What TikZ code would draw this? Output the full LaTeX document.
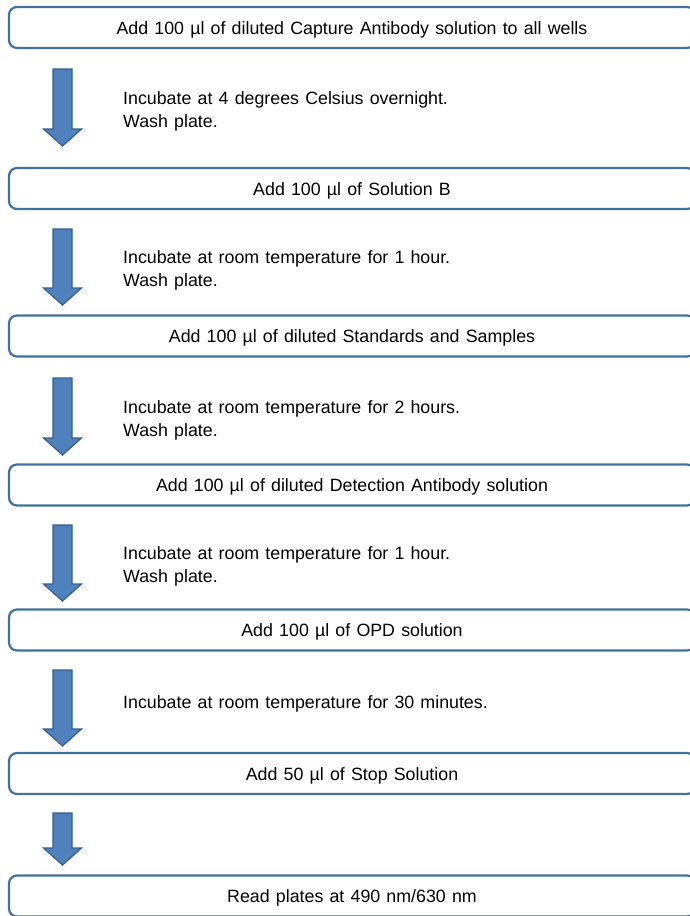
\documentclass[tikz,border=0pt]{standalone}
\usepackage{fontspec}
\setmainfont[WordSpace={1.25,0.5,0.3}]{Liberation Sans}
\usetikzlibrary{calc}
\definecolor{boxline}{HTML}{41719C}
\definecolor{arrowfill}{HTML}{4F81BD}
\definecolor{arrowline}{HTML}{385D8A}
\def\blockarrow(#1:#2:#3){\draw[blockarrow] (#1-9.5,#2) -- (#1+9.5,#2) -- (#1+9.5,#3-17) -- (#1+19,#3-17) -- (#1,#3) -- (#1-19,#3-17) -- (#1-9.5,#3-17) -- cycle;}
\def\steptext#1{\raisebox{-2pt}[\height][\depth]{#1}}
\tikzset{
  stepbox/.style={draw=boxline, line width=2.2pt, rounded corners=8pt, minimum width=686pt, minimum height=41pt, inner sep=0pt, font=\fontsize{17.8}{20}\selectfont},
  note/.style={anchor=west, align=left, inner sep=0pt, font=\fontsize{17.8}{23}\selectfont},
  blockarrow/.style={fill=arrowfill, draw=arrowline, line width=1.2pt}
}

\begin{document}
\begin{tikzpicture}[x=1pt,y=-1pt]
			%%%%% START %%%%%
			\useasboundingbox (0,0) rectangle (689,916);
			
			\node[stepbox] (capture) at (352, 27.5) {\steptext{Add 100 µl of diluted Capture Antibody solution to all wells}};
			\blockarrow(62.5:69:146)
			\node[note] (incubate1) at (123, 111.5) {Incubate at 4 degrees Celsius overnight.\\Wash plate.};
			
			\node[stepbox] (solutionb) at (352, 188.5) {\steptext{Add 100 µl of Solution B}};
			\blockarrow(62.5:229:305)
			\node[note] (incubate2) at (123, 270) {Incubate at room temperature for 1 hour.\\Wash plate.};
			
			\node[stepbox] (standards) at (352, 336) {\steptext{Add 100 µl of diluted Standards and Samples}};
			\blockarrow(62.5:378:455)
			\node[note] (incubate3) at (123, 420) {Incubate at room temperature for 2 hours.\\Wash plate.};
			
			\node[stepbox] (detection) at (352, 485) {\steptext{Add 100 µl of diluted Detection Antibody solution}};
			\blockarrow(62.5:525:601)
			\node[note] (incubate4) at (123, 566) {Incubate at room temperature for 1 hour.\\Wash plate.};
			
			\node[stepbox] (opd) at (352, 630) {\steptext{Add 100 µl of OPD solution}};
			\blockarrow(62.5:670:746)
			\node[note] (incubate5) at (123, 704) {Incubate at room temperature for 30 minutes.};
			
			\node[stepbox] (stop) at (352, 773.5) {\steptext{Add 50 µl of Stop Solution}};
			\blockarrow(62.5:813:865)
			
			\node[stepbox] (read) at (352, 896) {\steptext{Read plates at 490 nm/630 nm}};
			%%%%% END %%%%%
\end{tikzpicture}
\end{document}
